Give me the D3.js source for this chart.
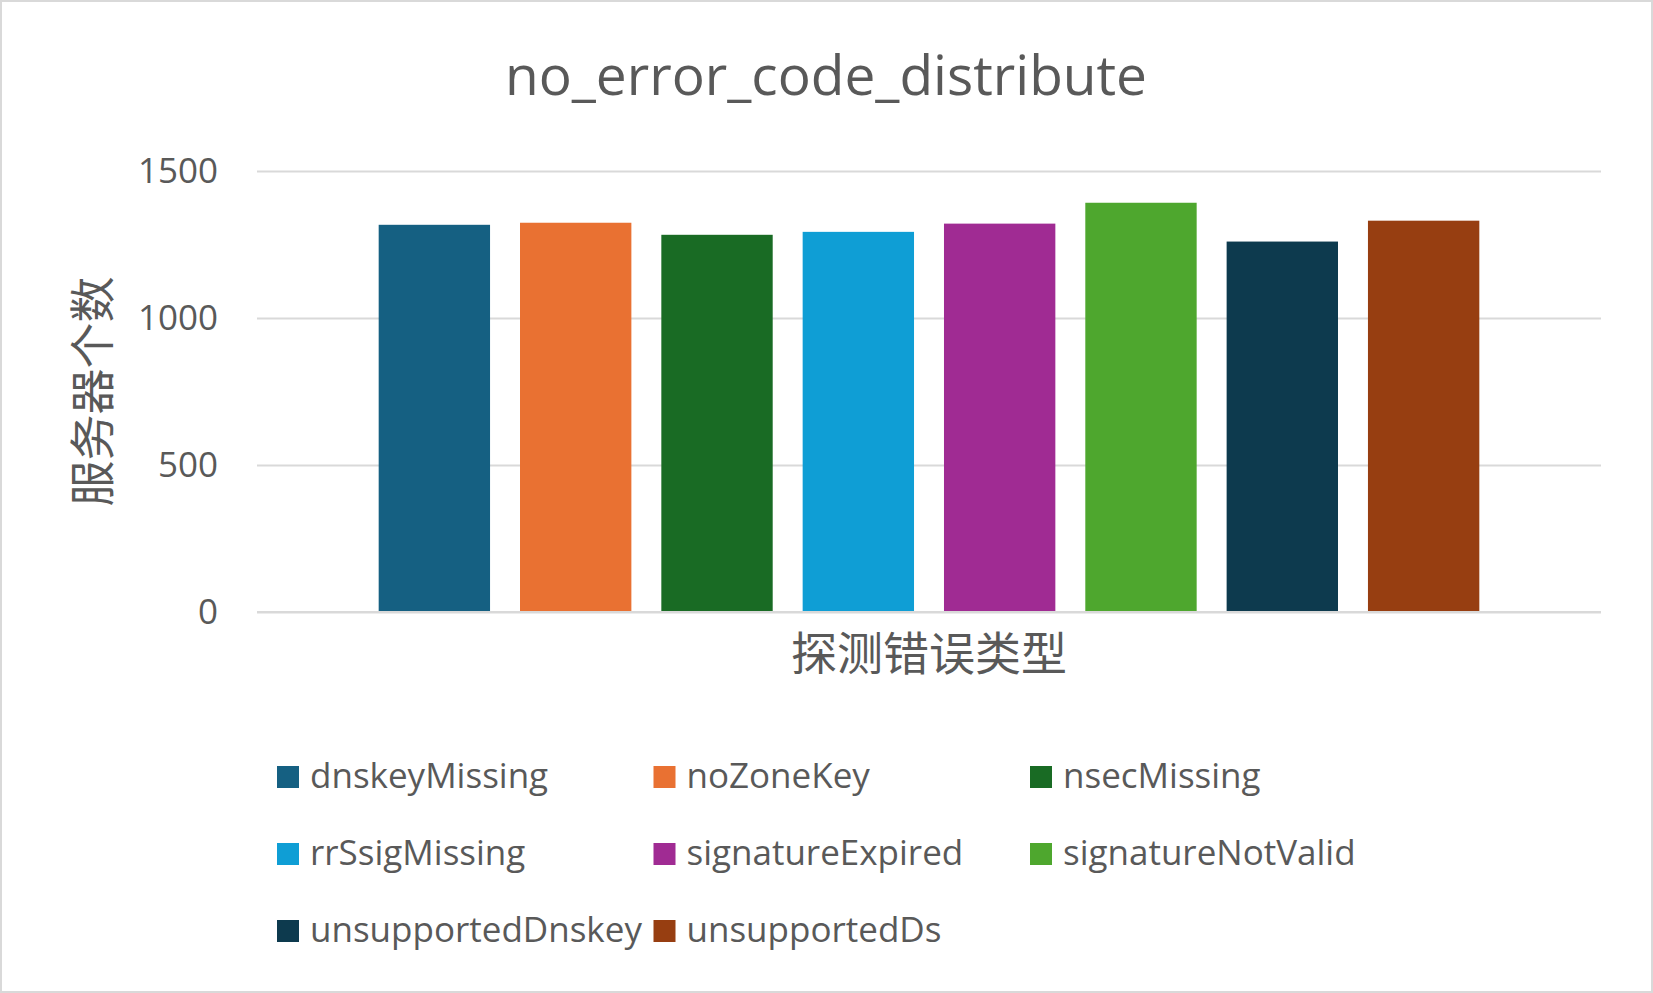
<!DOCTYPE html>
<html>
<head>
<meta charset="utf-8">
<script src="https://cdn.jsdelivr.net/npm/d3@7"></script>
<style>
  html, body { margin: 0; padding: 0; background: #fff; }
  svg { display: block; }
  text { font-family: "Open Sans", "Noto Sans CJK SC", sans-serif; fill: #595959; }
</style>
</head>
<body>
<svg id="chart" width="1653" height="993"></svg>
<script>
const chartTitle = "no_error_code_distribute";
const yAxisTitle = "服务器个数";
const xAxisTitle = "探测错误类型";
const seriesNames = ["dnskeyMissing", "noZoneKey", "nsecMissing", "rrSsigMissing",
                     "signatureExpired", "signatureNotValid", "unsupportedDnskey", "unsupportedDs"];
const seriesValues = [1317, 1324, 1283, 1293, 1321, 1392, 1260, 1331];
const seriesColors = ["#156082", "#E97132", "#196B24", "#0F9ED5",
                      "#A02B93", "#4EA72E", "#0D3A4E", "#973E11"];
const yTicks = [0, 500, 1000, 1500];

const W = 1653, H = 993;
const plot = { left: 257, right: 1601, top: 171, bottom: 612 };

const svg = d3.select("#chart");

svg.append("rect")
  .attr("x", 1).attr("y", 1).attr("width", W - 2).attr("height", H - 2)
  .attr("fill", "#fff").attr("stroke", "#d9d9d9").attr("stroke-width", 2);

const y = d3.scaleLinear().domain([0, 1500]).range([plot.bottom, plot.top]);
const x = d3.scaleBand().domain(seriesNames)
  .range([plot.left, plot.right])
  .paddingInner(0.212).paddingOuter(0.861);

// gridlines + tick labels via axis
const yAxis = d3.axisLeft(y).tickValues(yTicks).tickFormat(d3.format("d"))
  .tickSize(-(plot.right - plot.left)).tickPadding(39);
const gy = svg.append("g").attr("transform", `translate(${plot.left},0)`).call(yAxis);
gy.select(".domain").remove();
gy.selectAll(".tick line").attr("stroke", "#d9d9d9").attr("stroke-width", 2);
gy.selectAll(".tick text")
  .attr("fill", "#595959").style("font-size", "35px")
  .style("font-family", "'Open Sans', sans-serif");

// bars
svg.append("g").selectAll("rect").data(seriesNames).join("rect")
  .attr("x", d => x(d))
  .attr("width", x.bandwidth())
  .attr("y", (d, i) => y(seriesValues[i]))
  .attr("height", (d, i) => y(0) - y(seriesValues[i]))
  .attr("fill", (d, i) => seriesColors[i]);

// redraw baseline on top
svg.append("line")
  .attr("x1", plot.left).attr("x2", plot.right)
  .attr("y1", y(0)).attr("y2", y(0))
  .attr("stroke", "#d9d9d9").attr("stroke-width", 2);

// title
svg.append("text")
  .attr("x", (plot.left + plot.right) / 2 - 103).attr("y", 95)
  .attr("text-anchor", "middle")
  .style("font-size", "55px")
  .text(chartTitle);

// axis titles
svg.append("text")
  .attr("transform", `translate(89,${(plot.top + plot.bottom) / 2}) rotate(-90)`)
  .attr("text-anchor", "middle").attr("dominant-baseline", "central")
  .style("font-size", "46px")
  .style("font-family", "'Noto Sans CJK SC', sans-serif")
  .text(yAxisTitle);

svg.append("text")
  .attr("x", (plot.left + plot.right) / 2).attr("y", 650)
  .attr("text-anchor", "middle").attr("dominant-baseline", "central")
  .style("font-size", "46px")
  .style("font-family", "'Noto Sans CJK SC', sans-serif")
  .text(xAxisTitle);

// legend
const legCols = 3, colStep = 376.5, rowStep = 77, legX = 277, legY = 766;
const lg = svg.append("g").selectAll("g").data(seriesNames).join("g")
  .attr("transform", (d, i) => `translate(${legX + (i % legCols) * colStep},${legY + Math.floor(i / legCols) * rowStep})`);
lg.append("rect").attr("width", 22).attr("height", 22)
  .attr("fill", (d, i) => seriesColors[i]);
lg.append("text").attr("x", 33).attr("y", 22)
  .style("font-size", "35px")
  .text(d => d);
</script>
</body>
</html>
